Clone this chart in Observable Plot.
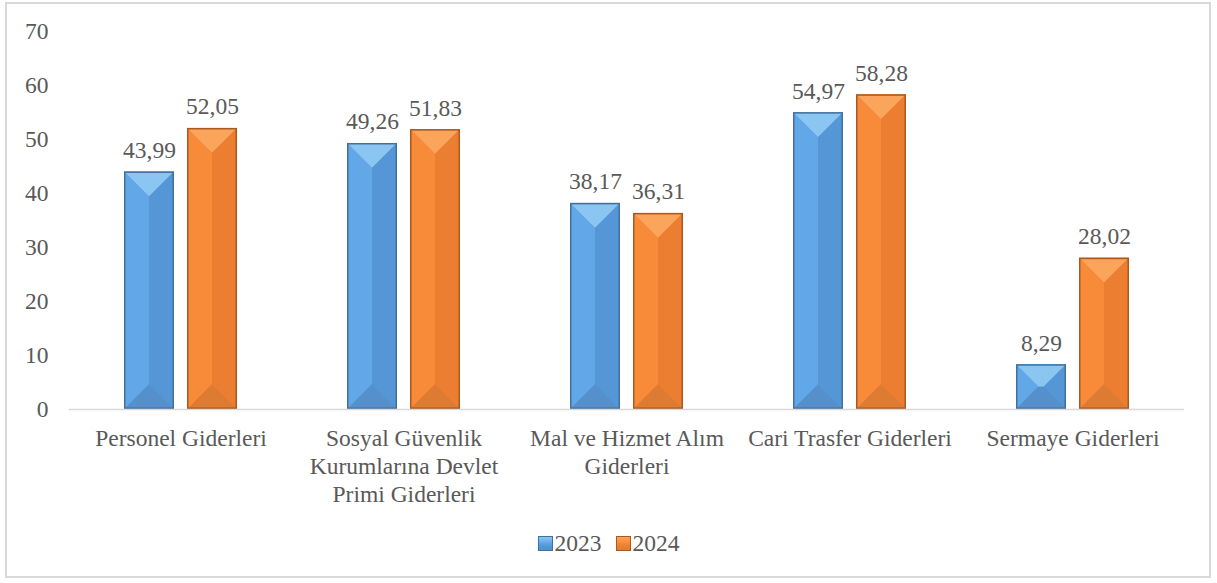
<!DOCTYPE html>
<html>
<head>
<meta charset="utf-8">
<script src="https://cdn.jsdelivr.net/npm/d3@7"></script>
<script src="https://cdn.jsdelivr.net/npm/@observablehq/plot@0.6"></script>
<style>
  html, body { margin: 0; padding: 0; background: #fff; }
  #wrap { position: relative; width: 1217px; height: 583px; overflow: hidden; font-family: "Liberation Serif", "Tinos", "Times New Roman", "DejaVu Serif", serif; }
  #frame { position: absolute; left: 5px; top: 2px; width: 1206px; height: 576px; border: 2px solid #d9d9d9; box-sizing: border-box; }
  #chart { position: absolute; left: 0; top: 0; }
  #legend { position: absolute; left: 0; top: 530px; width: 1217px; text-align: center; font-size: 23.5px; color: #595959; }
  .item { display: inline-flex; align-items: center; margin: 0 7px; }
  .sw { width: 15px; height: 15px; box-sizing: border-box; margin-right: 2px; }
  #chart svg, #chart svg text { font-family: "Liberation Serif", "Tinos", "Times New Roman", "DejaVu Serif", serif !important; font-variant: normal !important; }
</style>
</head>
<body>
<div id="wrap">
  <div id="frame"></div>
  <div id="chart"></div>
  <div id="legend"></div>
</div>
<script>
const categories = [
  "Personel Giderleri",
  "Sosyal Güvenlik Kurumlarına Devlet Primi Giderleri",
  "Mal ve Hizmet Alım Giderleri",
  "Cari Trasfer Giderleri",
  "Sermaye Giderleri"
];
const categoryLabels = [
  "Personel Giderleri",
  "Sosyal Güvenlik\nKurumlarına Devlet\nPrimi Giderleri",
  "Mal ve Hizmet Alım\nGiderleri",
  "Cari Trasfer Giderleri",
  "Sermaye Giderleri"
];
const years = ["2023", "2024"];
const values2023 = [43.99, 49.26, 38.17, 54.97, 8.29];
const values2024 = [52.05, 51.83, 36.31, 58.28, 28.02];
const yTicks = [0, 10, 20, 30, 40, 50, 60, 70];

const baseColors = ["#5B9BD5", "#ED7D31"];
const shades = {
  "#5B9BD5": {top: "#8BC6F3", left: "#62A7E8", right: "#5496D6", bottom: "#5590CC", stroke: "#41709C"},
  "#ED7D31": {top: "#FBA45C", left: "#F88B3A", right: "#EC7E31", bottom: "#DE7B33", stroke: "#A9581E"}
};

const data = [];
categories.forEach((c, i) => {
  data.push({category: c, year: years[0], value: values2023[i]});
  data.push({category: c, year: years[1], value: values2024[i]});
});
const labelOf = new Map(categories.map((c, i) => [c, categoryLabels[i]]));
const fmt = v => v.toFixed(2).replace(".", ",");
const FONT = "'Liberation Serif', Tinos, 'Times New Roman', 'DejaVu Serif', serif";

function bevel(index, scales, values, dimensions, context, next) {
  const g = next(index, scales, values, dimensions, context);
  const ns = "http://www.w3.org/2000/svg";
  const rects = Array.from(g.querySelectorAll("rect"));
  for (const r of rects) {
    const x0 = +r.getAttribute("x"), y0 = +r.getAttribute("y");
    const w = +r.getAttribute("width"), h = +r.getAttribute("height");
    const x1 = x0 + w, y1 = y0 + h, cx = x0 + w / 2, cy = y0 + h / 2;
    const s = shades[(r.getAttribute("fill") || "").toUpperCase()] || shades["#5B9BD5"];
    let faces;
    if (h >= w) {
      const a = y0 + w / 2, b = y1 - w / 2;
      faces = [
        [s.left, [[x0,y0],[cx,a],[cx,b],[x0,y1]]],
        [s.right, [[x1,y0],[cx,a],[cx,b],[x1,y1]]],
        [s.top, [[x0,y0],[x1,y0],[cx,a]]],
        [s.bottom, [[x0,y1],[x1,y1],[cx,b]]]
      ];
    } else {
      const a = x0 + h / 2, b = x1 - h / 2;
      faces = [
        [s.top, [[x0,y0],[x1,y0],[b,cy],[a,cy]]],
        [s.bottom, [[x0,y1],[x1,y1],[b,cy],[a,cy]]],
        [s.left, [[x0,y0],[a,cy],[x0,y1]]],
        [s.right, [[x1,y0],[b,cy],[x1,y1]]]
      ];
    }
    const parent = r.parentNode;
    for (const [fill, pts] of faces) {
      const p = document.createElementNS(ns, "polygon");
      p.setAttribute("points", pts.map(q => q.join(",")).join(" "));
      p.setAttribute("fill", fill);
      parent.insertBefore(p, r.nextSibling);
    }
    const outline = document.createElementNS(ns, "rect");
    outline.setAttribute("x", x0 + 0.75); outline.setAttribute("y", y0 + 0.75);
    outline.setAttribute("width", Math.max(0, w - 1.5)); outline.setAttribute("height", Math.max(0, h - 1.5));
    outline.setAttribute("fill", "none"); outline.setAttribute("stroke", s.stroke); outline.setAttribute("stroke-width", 1.5);
    parent.appendChild(outline);
  }
  return g;
}

const chart = Plot.plot({
  width: 1217,
  height: 520,
  marginLeft: 68,
  marginRight: 32,
  marginTop: 31,
  marginBottom: 111,
  style: {fontFamily: FONT, fontSize: "23.5px", color: "#595959", background: "transparent"},
  fx: {domain: categories, padding: 0, label: null},
  x: {domain: years, paddingInner: 0.203, paddingOuter: 0.847, axis: null},
  y: {domain: [0, 70], label: null},
  color: {domain: years, range: baseColors},
  marks: [
    Plot.axisY({ticks: yTicks, tickSize: 0, tickPadding: 21, label: null, fontSize: 23.5, fill: "#595959", fontFamily: FONT}),
    Plot.axisFx({anchor: "bottom", tickSize: 0, tickPadding: 17, label: null, tickFormat: d => labelOf.get(d), lineHeight: 1.19, fontSize: 23.5, fill: "#595959", fontFamily: FONT}),
    Plot.barY(data, {fx: "category", x: "year", y: "value", fill: "year", render: bevel}),
    Plot.ruleY([0], {stroke: "#d9d9d9", strokeWidth: 1.5}),
    Plot.text(data, {fx: "category", x: "year", y: "value", text: d => fmt(d.value), lineAnchor: "bottom", dy: -14, fontSize: 23.5, fill: "#595959", fontFamily: FONT})
  ]
});
document.getElementById("chart").appendChild(chart);

const legend = document.getElementById("legend");
years.forEach((yr, i) => {
  const s = shades[baseColors[i]];
  const item = document.createElement("span");
  item.className = "item";
  const sw = document.createElement("span");
  sw.className = "sw";
  sw.style.background = `linear-gradient(180deg, ${s.top} 0%, ${s.left} 45%, ${s.right} 70%, ${s.bottom} 100%)`;
  sw.style.border = `1.5px solid ${s.stroke}`;
  const t = document.createElement("span");
  t.textContent = yr;
  item.appendChild(sw); item.appendChild(t);
  legend.appendChild(item);
});
</script>
</body>
</html>
